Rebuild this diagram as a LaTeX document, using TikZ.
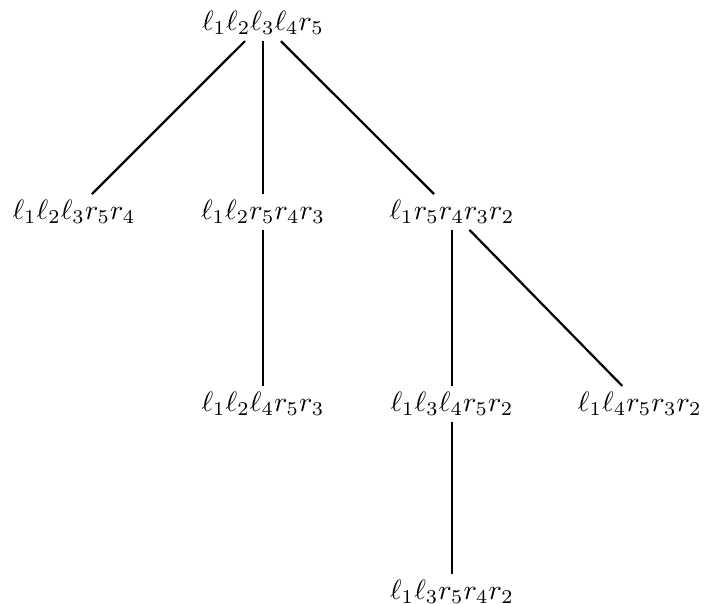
\documentclass[tikz,border=0pt]{standalone}
\usepackage{amsmath}
\usepackage{amssymb}
\usetikzlibrary{positioning}

\begin{document}
\begin{tikzpicture}[x=2.39cm, y=2.39cm]
    \tikzset{
        n/.style        =   { inner sep=2pt
                            , text centered
        }
        , edge/.style   =   { thick
        }
    }
    \useasboundingbox (0,0) rectangle (3.711,-3.179);
    \node(r)[n]   at (1.384,-0.122) {$\ell_1\ell_2\ell_3\ell_4r_5$};
    \node(a)[n]   at (0.389,-1.116) {$\ell_1\ell_2\ell_3r_5r_4$};
    \node(b)[n]   at (1.384,-1.116) {$\ell_1\ell_2r_5r_4r_3$};
    \node(c)[n]   at (2.379,-1.116) {$\ell_1r_5r_4r_3r_2$};
    \node(b1)[n]  at (1.384,-2.126) {$\ell_1\ell_2\ell_4r_5r_3$};
    \node(c1)[n]  at (2.379,-2.126) {$\ell_1\ell_3\ell_4r_5r_2$};
    \node(c2)[n]  at (3.368,-2.126) {$\ell_1\ell_4r_5r_3r_2$};
    \node(c11)[n] at (2.379,-3.116) {$\ell_1\ell_3r_5r_4r_2$};

    \draw[edge] (r) -- (a);
    \draw[edge] (r) -- (b);
    \draw[edge] (r) -- (c);
    \draw[edge] (b) -- (b1);
    \draw[edge] (c) -- (c1);
    \draw[edge] (c) -- (c2);
    \draw[edge] (c1) -- (c11);
\end{tikzpicture}
\end{document}
